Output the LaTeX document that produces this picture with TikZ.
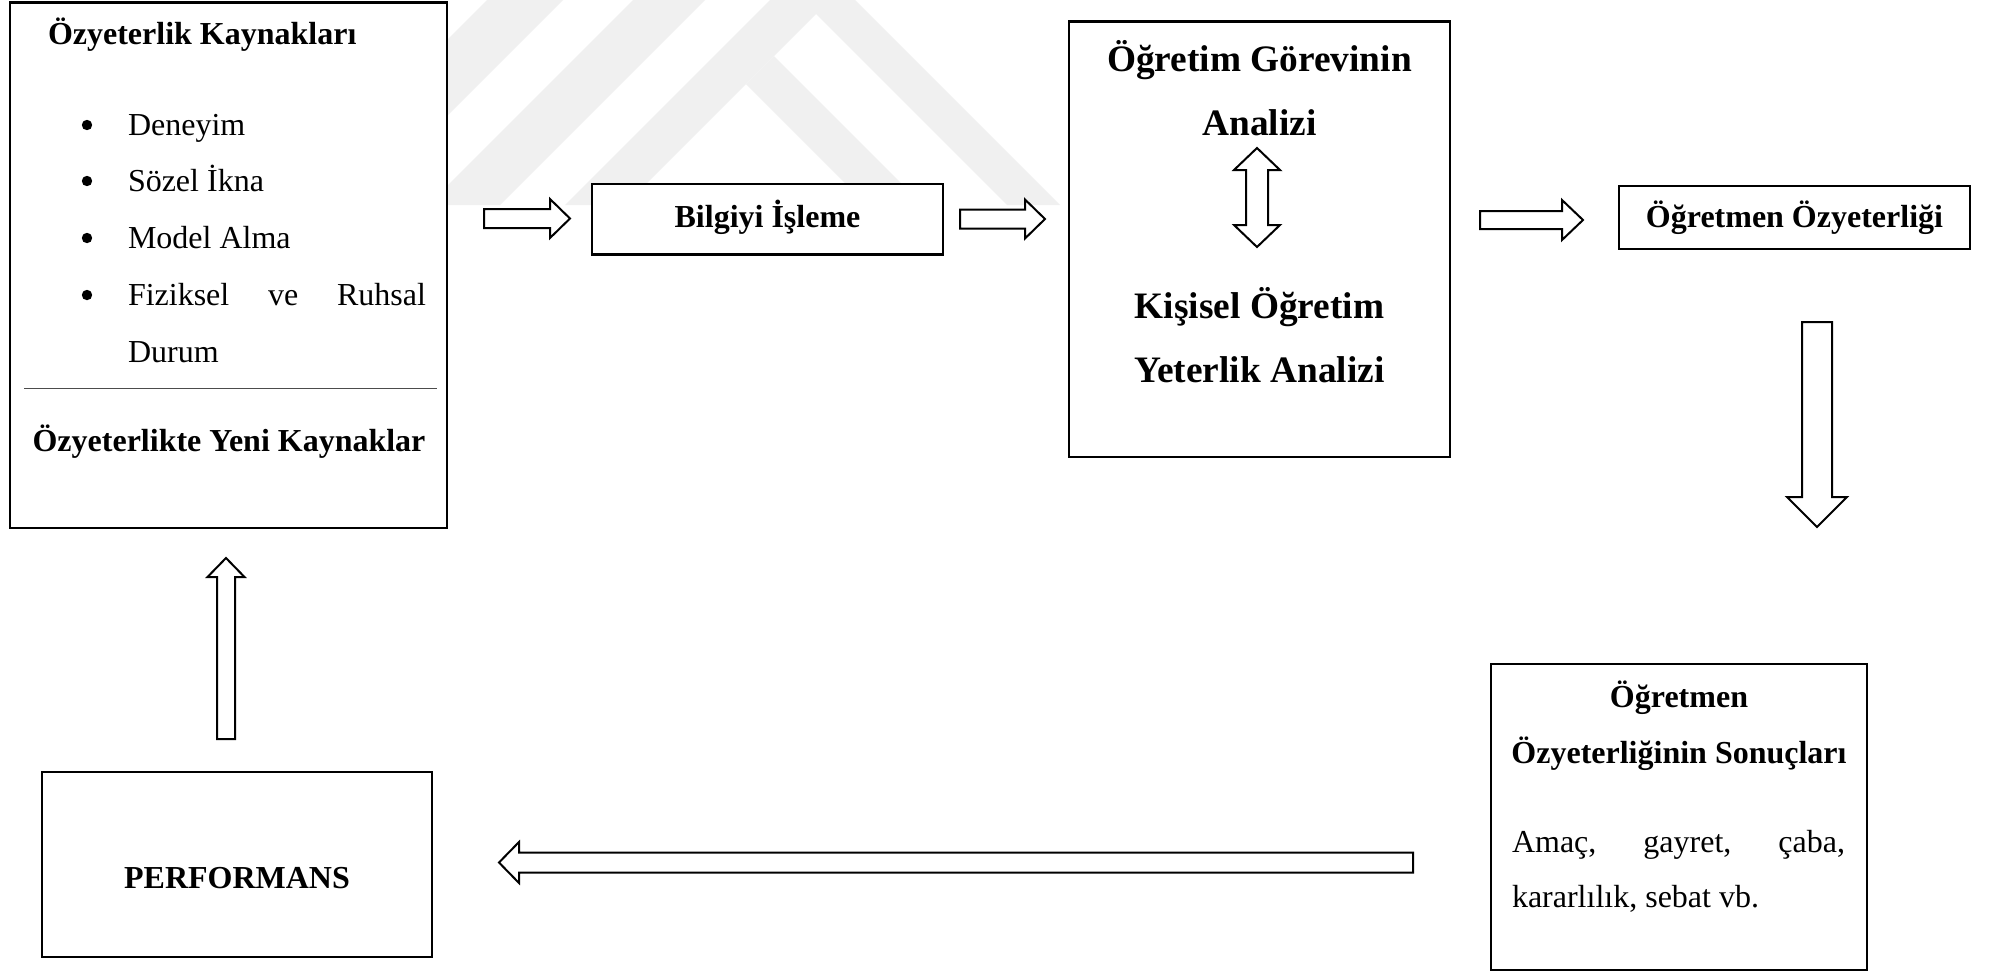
\documentclass[tikz,border=0pt]{standalone}
\usepackage{fontspec}
\setmainfont{Liberation Serif}
\usetikzlibrary{calc}
\tikzset{
  box/.style={draw, line width=0.8pt, fill=white, inner sep=0pt, outer sep=0pt, anchor=north west},
  txt/.style={inner sep=0pt, outer sep=0pt, font=\fontsize{12}{14}\selectfont},
  btxt/.style={inner sep=0pt, outer sep=0pt, font=\fontsize{12}{14}\selectfont\bfseries},
  bigtxt/.style={inner sep=0pt, outer sep=0pt, font=\fontsize{14}{16}\selectfont\bfseries},
  arr/.style={draw, line width=0.75pt, fill=white, line join=miter},
  wm/.style={fill=black!6, draw=none},
  divider/.style={draw=black!70, line width=0.55pt},
}
% box: name, x1, y1, x2, y2 (pixel units)
\newcommand{\boxnode}[5]{\node[box, minimum width={(#4-#2)*0.375pt}, minimum height={(#5-#3)*0.375pt}] (#1) at (#2,#3) {};}
% block arrow: start, end, shaft half width, head half width, head length (pixel units)
\newcommand{\blockarrow}[5]{%
  \coordinate (#1-hb) at ($(#2)!#5*0.375pt!(#1)$);
  \draw[arr] ($(#1)!#3*0.375pt!90:(#2)$) -- ($(#1-hb)!#3*0.375pt!90:(#2)$) -- ($(#1-hb)!#4*0.375pt!90:(#2)$) -- (#2)
     -- ($(#1-hb)!#4*0.375pt!-90:(#2)$) -- ($(#1-hb)!#3*0.375pt!-90:(#2)$) -- ($(#1)!#3*0.375pt!-90:(#2)$) -- cycle;}
\newcommand{\doublearrow}[5]{%
  \coordinate (#1-hb) at ($(#1)!#5*0.375pt!(#2)$);
  \coordinate (#2-hb) at ($(#2)!#5*0.375pt!(#1)$);
  \draw[arr] (#1) -- ($(#1-hb)!#4*0.375pt!90:(#2)$) -- ($(#1-hb)!#3*0.375pt!90:(#2)$)
     -- ($(#2-hb)!#3*0.375pt!-90:(#1)$) -- ($(#2-hb)!#4*0.375pt!-90:(#1)$) -- (#2)
     -- ($(#2-hb)!#4*0.375pt!90:(#1)$) -- ($(#2-hb)!#3*0.375pt!90:(#1)$)
     -- ($(#1-hb)!#3*0.375pt!-90:(#2)$) -- ($(#1-hb)!#4*0.375pt!-90:(#2)$) -- cycle;}
\begin{document}
\begin{tikzpicture}[x=0.375pt,y=-0.375pt]
\useasboundingbox (0,0) rectangle (1991,972);
\fill[white] (0,0) rectangle (1991,972);

% faint background watermark
\begin{scope}
  \clip (448,0) rectangle (1068,205);
  \fill[wm] (487,0) -- (563,0) -- (358,205) -- (282,205) -- cycle;
  \fill[wm] (633,0) -- (705,0) -- (500,205) -- (428,205) -- cycle;
  \fill[wm] (770,0) -- (830,0) -- (625,205) -- (565,205) -- cycle;
  \fill[wm] (746,84) -- (774,56) -- (923,205) -- (867,205) -- cycle;
  \fill[wm] (802,0) -- (855,0) -- (1060,205) -- (1007,205) -- cycle;
\end{scope}

% boxes
\boxnode{srcbox}{10}{2.5}{447}{528}
\boxnode{infobox}{592}{184}{943}{254.5}
\boxnode{anabox}{1069}{21.5}{1450}{457}
\boxnode{effbox}{1619}{186}{1970}{249}
\boxnode{resbox}{1491}{664}{1867}{970}
\boxnode{perfbox}{42}{772}{432}{957}

% left box contents
\node[btxt, anchor=base west] (srctitle) at (48,44) {Özyeterlik Kaynakları};
\fill (87,125) circle[radius=5.2];
\fill (87,181) circle[radius=5.2];
\fill (87,238) circle[radius=5.2];
\fill (87,295) circle[radius=5.2];
\node[txt, anchor=base west] (it1) at (128,135) {Deneyim};
\node[txt, anchor=base west] (it2) at (128,191) {Sözel İkna};
\node[txt, anchor=base west] (it3) at (128,248) {Model Alma};
\node[txt, anchor=base west] (it4) at (128,305) {\hbox to 111.75pt{Fiziksel\hfill ve\hfill Ruhsal}};
\node[txt, anchor=base west] (it5) at (128,362) {Durum};
\draw[divider] (24,388.5) -- (437,388.5);
\node[btxt, anchor=base] (newsrc) at (229,451) {Özyeterlikte Yeni Kaynaklar};

% information processing
\node[btxt, anchor=base] (infotxt) at (767.5,227) {Bilgiyi İşleme};

% analysis box
\node[bigtxt, anchor=base] (an1) at (1259.5,71) {Öğretim Görevinin};
\node[bigtxt, anchor=base] (an2) at (1259.5,135) {Analizi};
\node[bigtxt, anchor=base] (an3) at (1259.5,318) {Kişisel Öğretim};
\node[bigtxt, anchor=base] (an4) at (1259.5,382) {Yeterlik Analizi};

% teacher efficacy
\node[btxt, anchor=base] (efftxt) at (1794.5,227) {Öğretmen Özyeterliği};

% results box
\node[btxt, anchor=base] (res1) at (1679,707) {Öğretmen};
\node[btxt, anchor=base] (res2) at (1679,763) {Özyeterliğinin Sonuçları};
\node[txt, anchor=base west] (res3) at (1512,852) {\hbox to 124.875pt{Amaç,\hfill gayret,\hfill çaba,}};
\node[txt, anchor=base west] (res4) at (1512,907) {kararlılık, sebat vb.};

% performance
\node[btxt, anchor=base] (perftxt) at (237,888) {PERFORMANS};

% arrow end points
\coordinate (a1s) at (484,218.5);  \coordinate (a1e) at (570,218.5);
\coordinate (a2s) at (960,219);    \coordinate (a2e) at (1045,219);
\coordinate (a3s) at (1480,220);   \coordinate (a3e) at (1583,220);
\coordinate (a4s) at (1817,322);   \coordinate (a4e) at (1817,527);
\coordinate (a5s) at (1413,862.5); \coordinate (a5e) at (499,862.5);
\coordinate (a6s) at (226,739);    \coordinate (a6e) at (226,558);
\coordinate (d1a) at (1257,148);   \coordinate (d1b) at (1257,247);

\blockarrow{a1s}{a1e}{9.5}{19.5}{20}
\blockarrow{a2s}{a2e}{9.5}{19.5}{20}
\blockarrow{a3s}{a3e}{9}{20}{21}
\blockarrow{a4s}{a4e}{15}{30}{30}
\blockarrow{a5s}{a5e}{10}{20.5}{20}
\blockarrow{a6s}{a6e}{9}{18.5}{19}
\doublearrow{d1a}{d1b}{11}{23}{22}
\end{tikzpicture}
\end{document}
